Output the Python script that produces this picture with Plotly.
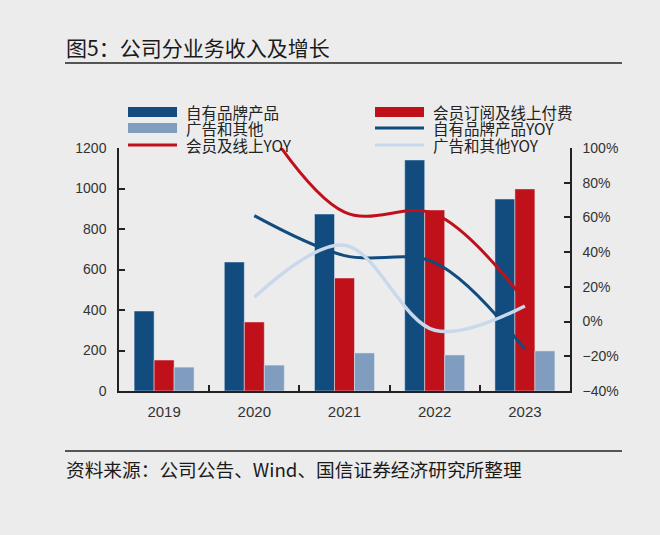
import plotly.graph_objects as go

years = ["2019", "2020", "2021", "2022", "2023"]
own_brand = [395, 637, 874, 1141, 948]
member_paid = [153, 341, 558, 894, 998]
ads_other = [118, 128, 188, 178, 198]

yoy_years = ["2020", "2021", "2022", "2023"]
own_brand_yoy = [0.61, 0.38, 0.34, -0.16]
member_yoy = [1.23, 0.63, 0.62, 0.12]
ads_yoy = [0.14, 0.44, -0.05, 0.09]

legend_labels = ["自有品牌产品", "会员订阅及线上付费", "广告和其他",
                 "自有品牌产品YOY", "会员及线上YOY", "广告和其他YOY"]

title_text = "图5：公司分业务收入及增长"
source_text = "资料来源：公司公告、Wind、国信证券经济研究所整理"

C_BLUE = "#124B7E"
C_RED = "#C0111B"
C_LBAR = "#809DC0"
C_LLINE = "#C9D9EB"
BG = "#ECECEC"

W, H = 660, 535
L, R, T, B = 119, 570, 148, 391

def px(x):
    return (x - L) / (R - L)

def py(y):
    return (B - y) / (B - T)

fig = go.Figure()
fig.add_trace(go.Bar(x=years, y=own_brand, marker_color=C_BLUE, name=legend_labels[0]))
fig.add_trace(go.Bar(x=years, y=member_paid, marker_color=C_RED, name=legend_labels[1]))
fig.add_trace(go.Bar(x=years, y=ads_other, marker_color=C_LBAR, name=legend_labels[2]))

fig.add_trace(go.Scatter(x=yoy_years, y=own_brand_yoy, yaxis="y2", mode="lines",
                         line=dict(color=C_BLUE, width=3, shape="spline", smoothing=1.0),
                         name=legend_labels[3]))
fig.add_trace(go.Scatter(x=yoy_years, y=member_yoy, yaxis="y2", mode="lines",
                         line=dict(color=C_RED, width=3, shape="spline", smoothing=1.0),
                         name=legend_labels[4]))
fig.add_trace(go.Scatter(x=yoy_years, y=ads_yoy, yaxis="y2", mode="lines",
                         line=dict(color=C_LLINE, width=3.5, shape="spline", smoothing=1.0),
                         name=legend_labels[5]))

tickfont = dict(family="Liberation Sans, Arial", size=14, color="#333333")

fig.update_layout(
    width=W, height=H,
    margin=dict(l=L, r=W - R, t=T, b=H - B),
    paper_bgcolor=BG, plot_bgcolor=BG,
    showlegend=False,
    barmode="group", bargap=0.335, bargroupgap=0,
    xaxis=dict(type="category", categoryorder="array", categoryarray=years,
               showline=True, linecolor="#222222", linewidth=1.5,
               ticks="inside", tickson="boundaries", ticklen=6, tickcolor="#222222",
               tickwidth=1.5, showgrid=False,
               tickfont=dict(family="Liberation Sans, Arial", size=15, color="#333333"),
               ticklabelstandoff=6),
    yaxis=dict(range=[0, 1200], dtick=200, showline=True, linecolor="#222222", linewidth=1.5,
               ticks="inside", ticklen=6, tickcolor="#222222", tickwidth=1.5,
               showgrid=False, zeroline=False, tickfont=tickfont, ticklabelstandoff=8),
    yaxis2=dict(range=[-0.4, 1.0], dtick=0.2, tickformat=".0%", overlaying="y", side="right",
                showline=True, linecolor="#222222", linewidth=1.5,
                ticks="inside", ticklen=6, tickcolor="#222222", tickwidth=1.5,
                showgrid=False, zeroline=False, tickfont=tickfont, ticklabelstandoff=8),
)

shapes = []
annotations = []

# title and rules
annotations.append(dict(x=px(64), y=py(47), xref="paper", yref="paper", text=title_text,
                        showarrow=False, xanchor="left", yanchor="middle",
                        font=dict(family="Noto Sans CJK SC", size=21, color="#1a1a1a")))
shapes.append(dict(type="line", xref="paper", yref="paper", x0=px(65), x1=px(622),
                   y0=py(63), y1=py(63), line=dict(color="#555555", width=2)))
shapes.append(dict(type="line", xref="paper", yref="paper", x0=px(65), x1=px(622),
                   y0=py(451), y1=py(451), line=dict(color="#555555", width=2)))
annotations.append(dict(x=px(64), y=py(468), xref="paper", yref="paper", text=source_text,
                        showarrow=False, xanchor="left", yanchor="middle",
                        font=dict(family="Noto Sans CJK SC", size=18.7, color="#1a1a1a")))

# manual legend: two columns, three rows (as in the reference)
legend_style = [
    ("bar", C_BLUE, 128, 112), ("bar", C_RED, 375, 112),
    ("bar", C_LBAR, 128, 128), ("line", C_BLUE, 375, 128),
    ("line", C_RED, 128, 145), ("line", C_LLINE, 375, 145),
]
legend_order = [0, 1, 2, 3, 4, 5]
for idx, (kind, color, x0, yc) in zip(legend_order, legend_style):
    if kind == "bar":
        shapes.append(dict(type="rect", xref="paper", yref="paper", x0=px(x0), x1=px(x0 + 49),
                           y0=py(yc + 5), y1=py(yc - 5), fillcolor=color, line=dict(width=0)))
    else:
        shapes.append(dict(type="line", xref="paper", yref="paper", x0=px(x0), x1=px(x0 + 49),
                           y0=py(yc), y1=py(yc), line=dict(color=color, width=3)))
    annotations.append(dict(x=px(x0 + 56), y=py(yc), xref="paper", yref="paper",
                            text=legend_labels[idx], showarrow=False,
                            xanchor="left", yanchor="middle",
                            font=dict(family="Noto Sans CJK SC", size=15.5, color="#222222")))

fig.update_layout(shapes=shapes, annotations=annotations)
fig.write_html("out.html", config={"displayModeBar": False},
               post_script="document.body.style.margin='0px';document.body.style.background='#ECECEC';")
